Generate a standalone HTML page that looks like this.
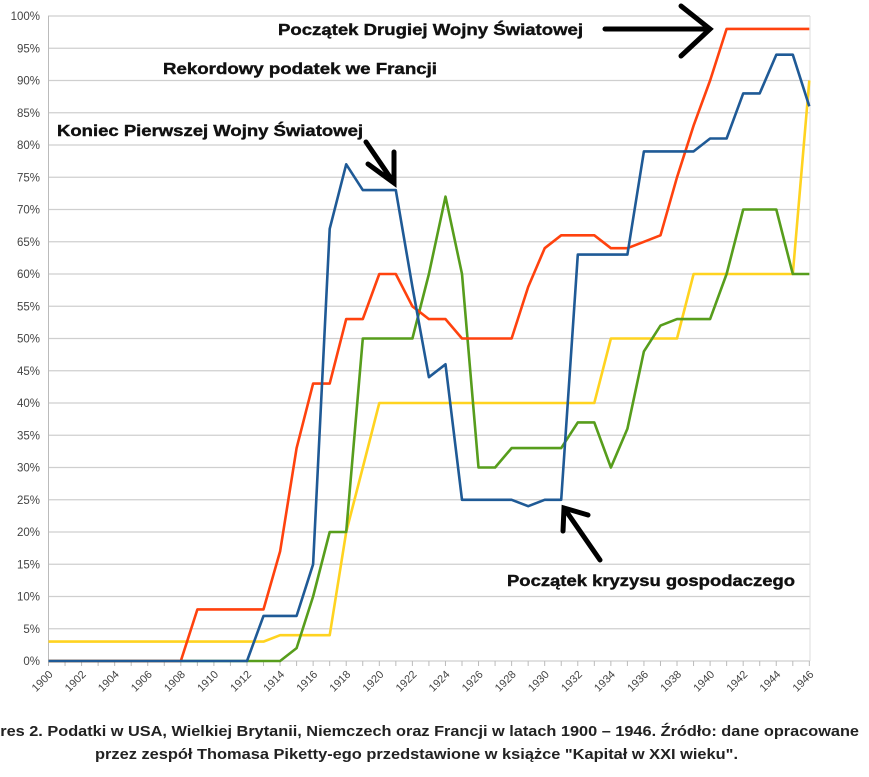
<!DOCTYPE html>
<html><head><meta charset="utf-8">
<style>
html,body{margin:0;padding:0;background:#fff;width:869px;height:777px;overflow:hidden;position:relative}
svg{position:absolute;left:0;top:0}
</style></head><body>
<svg id="s" width="869" height="777" xmlns="http://www.w3.org/2000/svg" font-family="Liberation Sans, sans-serif"></svg>
<script>
var s=document.getElementById('s'),h='';
function X(y){return 48.5+(y-1900)*16.54}
function Y(v){return 661-v*6.45}
for(var v=0;v<=100;v+=5){h+='<line x1="48" x2="810" y1="'+Y(v)+'" y2="'+Y(v)+'" stroke="#cfcfcf" stroke-width="1.2"/>';
h+='<text x="40" y="'+(Y(v)+4)+'" text-anchor="end" font-size="11.5" fill="#444">'+v+'%</text>';}
h+='<line x1="48.5" x2="48.5" y1="16" y2="666" stroke="#bbb"/><line x1="810" x2="810" y1="16" y2="661" stroke="#ddd"/>';
for(var y=1900;y<=1946;y++){h+='<line x1="'+X(y)+'" x2="'+X(y)+'" y1="661" y2="666" stroke="#bbb"/>';
if(y%2==0)h+='<text transform="translate('+(X(y)+5)+',675) rotate(-45)" text-anchor="end" font-size="11" fill="#444">'+y+'</text>';}
var yel=[3,3,3,3,3,3,3,3,3,3,3,3,3,3,4,4,4,4,20,30,40,40,40,40,40,40,40,40,40,40,40,40,40,40,50,50,50,50,50,60,60,60,60,60,60,60,90];
var grn=[0,0,0,0,0,0,0,0,0,0,0,0,0,0,0,2,10,20,20,50,50,50,50,60,72,60,30,30,33,33,33,33,37,37,30,36,48,52,53,53,53,60,70,70,70,60,60];
var org=[0,0,0,0,0,0,0,0,0,8,8,8,8,8,17,33,43,43,53,53,60,60,55,53,53,50,50,50,50,58,64,66,66,66,64,64,65,66,75,83,90,98,98,98,98,98,98];
var blu=[0,0,0,0,0,0,0,0,0,0,0,0,0,7,7,7,15,67,77,73,73,73,58,44,46,25,25,25,25,24,25,25,63,63,63,63,79,79,79,79,81,81,88,88,94,94,86];
function pl(d,c){var p=d.map(function(v,i){return X(1900+i).toFixed(1)+','+Y(v).toFixed(1)}).join(' ');
h+='<polyline points="'+p+'" fill="none" stroke="'+c+'" stroke-width="2.6" stroke-linejoin="round"/>';}
pl(yel,'#ffd320');pl(grn,'#579d1c');pl(org,'#ff420e');pl(blu,'#1f5a96');
function t(x,y,w,s){h+='<text x="'+x+'" y="'+y+'" textLength="'+w+'" lengthAdjust="spacingAndGlyphs" font-size="16" font-weight="bold" fill="#111" stroke="#111" stroke-width="0.4">'+s+'</text>';}
t(278,35,305,'Początek Drugiej Wojny Światowej');
t(163,74,274,'Rekordowy podatek we Francji');
t(57,136,306,'Koniec Pierwszej Wojny Światowej');
t(507,586,288,'Początek kryzysu gospodaczego');
var a='stroke="#000" stroke-width="5" stroke-linecap="round" fill="none"';
h+='<path d="M605 29 L710 29 M681 6 L710 29 L681 56" '+a+'/>';
h+='<path d="M366 142 L394 183 M368 164 L394 183 L394 152" '+a+'/>';
h+='<path d="M600 560 L564 508 M563 531 L564 508 L588 515" '+a+'/>';
function c(x,y,w,s){h+='<text x="'+x+'" y="'+y+'" textLength="'+w+'" lengthAdjust="spacingAndGlyphs" font-size="15" font-weight="bold" fill="#222">'+s+'</text>';}
c(-33,736,892,'Wykres 2. Podatki w USA, Wielkiej Brytanii, Niemczech oraz Francji w latach 1900 – 1946. Źródło: dane opracowane');
c(95,759,643,'przez zespół Thomasa Piketty-ego przedstawione w książce "Kapitał w XXI wieku".');
s.innerHTML=h;
</script>
</body></html>
